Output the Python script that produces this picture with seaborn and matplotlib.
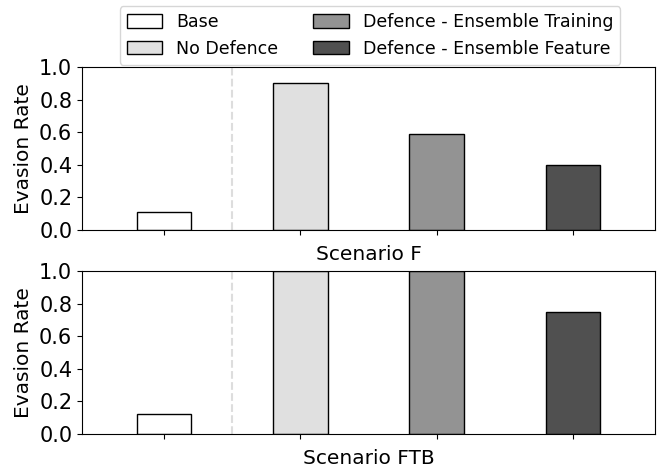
import numpy as np
import pandas as pd
import matplotlib
matplotlib.use("Agg")
import matplotlib.pyplot as plt
import seaborn as sns
from matplotlib.patches import Patch

categories = ["Base", "No Defence", "Defence - Ensemble Training", "Defence - Ensemble Feature"]
colors = ["#ffffff", "#e0e0e0", "#939393", "#505050"]
scenario_f = [0.11, 0.90, 0.59, 0.40]
scenario_ftb = [0.12, 1.00, 1.00, 0.75]
scenarios = ["Scenario F", "Scenario FTB"]

sns.set_style("ticks")
plt.rcParams["font.family"] = ["DejaVu Sans"]
plt.rcParams["text.color"] = "black"
plt.rcParams["axes.labelcolor"] = "black"
plt.rcParams["xtick.color"] = "black"
plt.rcParams["ytick.color"] = "black"

fig = plt.figure(figsize=(6.59, 4.70), dpi=100)
ax_top = fig.add_axes([82 / 659, 240 / 470, 573 / 659, 163 / 470])
ax_bot = fig.add_axes([82 / 659, 36 / 470, 573 / 659, 163 / 470])

for ax, vals, name in zip([ax_top, ax_bot], [scenario_f, scenario_ftb], scenarios):
    df = pd.DataFrame({"cat": categories, "val": vals})
    sns.barplot(data=df, x="cat", y="val", hue="cat", order=categories,
                hue_order=categories, palette=colors, edgecolor="black",
                linewidth=1.0, width=0.4, legend=False, ax=ax)
    ax.axvline(0.5, color="#dddddd", linestyle="--", linewidth=1.5)
    ax.set_xlim(-0.6, 3.6)
    ax.set_ylim(0, 1.0)
    ax.set_yticks(np.arange(0, 1.01, 0.2))
    ax.set_xticklabels([])
    ax.set_xlabel(name, fontsize=14.5)
    ax.set_ylabel("Evasion Rate", fontsize=14.5)
    ax.tick_params(axis="y", labelsize=15)
    for s in ax.spines.values():
        s.set_visible(True)
        s.set_color("black")

handles = [Patch(facecolor=c, edgecolor="black", label=l) for c, l in zip(colors, categories)]
leg = fig.legend(handles=handles, ncol=2, loc="upper center", bbox_to_anchor=(0.5615, 0.987),
                 fontsize=12.5, frameon=True, handlelength=2.07, handleheight=0.8,
                 columnspacing=2.0, labelspacing=0.5, borderpad=0.4, borderaxespad=0)
leg.set_zorder(5)

fig.savefig("out.png", dpi=100)
